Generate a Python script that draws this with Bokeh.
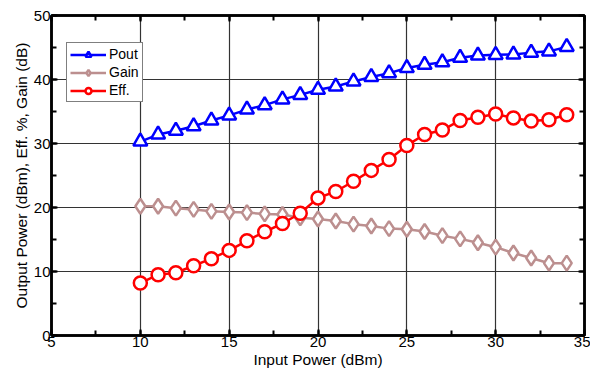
from bokeh.plotting import figure
from bokeh.models import Range1d, SingleIntervalTicker, LinearAxis, Legend, LegendItem
from bokeh.embed import file_html
from bokeh.resources import INLINE

input_power = [10, 11, 12, 13, 14, 15, 16, 17, 18, 19, 20, 21, 22, 23, 24, 25, 26, 27, 28, 29, 30, 31, 32, 33, 34]
pout = [30.3, 31.4, 32.0, 32.7, 33.6, 34.4, 35.3, 36.0, 36.9, 37.6, 38.4, 38.9, 39.7, 40.4, 41.0, 41.8, 42.3, 42.7, 43.4, 43.75, 43.85, 43.9, 44.2, 44.4, 45.1]
gain = [20.2, 20.2, 19.9, 19.7, 19.4, 19.3, 19.2, 19.0, 18.9, 18.4, 18.2, 17.9, 17.4, 17.1, 16.7, 16.6, 16.25, 15.6, 15.1, 14.5, 13.8, 12.9, 12.1, 11.3, 11.3]
eff = [8.2, 9.5, 9.8, 10.9, 12.0, 13.3, 14.8, 16.2, 17.5, 19.1, 21.5, 22.5, 24.1, 25.8, 27.5, 29.7, 31.4, 32.1, 33.6, 34.1, 34.6, 34.0, 33.5, 33.7, 34.5]

FONT = "Liberation Sans"

p = figure(width=590, height=375, output_backend="svg", toolbar_location=None,
           x_range=Range1d(5, 35), y_range=Range1d(0, 50),
           min_border_left=51, min_border_right=6, min_border_top=15, min_border_bottom=40,
           x_axis_label="Input Power (dBm)",
           y_axis_label="Output Power (dBm), Eff. %, Gain (dB)")
p.background_fill_color = "white"
p.border_fill_color = "white"
p.outline_line_color = "black"
p.outline_line_width = 2.5

xt = SingleIntervalTicker(interval=5, num_minor_ticks=2)
yt = SingleIntervalTicker(interval=10, num_minor_ticks=2)
p.xaxis.ticker = xt
p.yaxis.ticker = yt
p.xgrid.ticker = xt
p.ygrid.ticker = yt

for ax in list(p.xaxis) + list(p.yaxis):
    ax.major_tick_in = 6
    ax.major_tick_out = 0
    ax.minor_tick_in = 5
    ax.minor_tick_out = 0
    ax.major_tick_line_width = 2
    ax.minor_tick_line_width = 2
    ax.axis_line_width = 2.5
    ax.major_label_text_font = FONT
    ax.major_label_text_font_size = "15px"
    ax.major_label_text_color = "black"
    ax.axis_label_text_font = FONT
    ax.axis_label_text_font_size = "15.5px"
    ax.axis_label_text_font_style = "normal"
    ax.axis_label_text_color = "black"
    ax.major_label_standoff = 1
    ax.axis_label_standoff = 1

for loc, tk in (("above", xt), ("right", yt)):
    ax = LinearAxis(ticker=tk, major_label_text_font_size="0px", major_tick_in=6, major_tick_out=0,
                    minor_tick_in=5, minor_tick_out=0, major_tick_line_width=2, minor_tick_line_width=2,
                    axis_line_width=2.5)
    ax.major_label_text_alpha = 0
    p.add_layout(ax, loc)

for g in (p.xgrid, p.ygrid):
    g.grid_line_color = "#333333"
    g.grid_line_width = 1.2

c_pout = "#0000FF"
c_gain = "#BC8F8F"
c_eff = "#FF0000"

l1 = p.line(input_power, pout, line_color=c_pout, line_width=2.5)
s1 = p.scatter(input_power, pout, marker="triangle", size=14, line_color=c_pout, line_width=2.5, fill_color="white")
l2 = p.line(input_power, gain, line_color=c_gain, line_width=2.5)
s2 = p.scatter(input_power, gain, marker="diamond", size=15, line_color=c_gain, line_width=2.5, fill_color="white")
l3 = p.line(input_power, eff, line_color=c_eff, line_width=2.5)
s3 = p.scatter(input_power, eff, marker="circle", size=13, line_color=c_eff, line_width=2.5, fill_color="white")

legend = Legend(items=[LegendItem(label="Pout", renderers=[l1, s1]),
                       LegendItem(label="Gain", renderers=[l2, s2]),
                       LegendItem(label="Eff.", renderers=[l3, s3])],
                location=(15, 233))
legend.label_text_font = FONT
legend.label_text_font_size = "14px"
legend.label_text_color = "black"
legend.glyph_width = 36
legend.glyph_height = 15
legend.label_height = 15
legend.spacing = 2
legend.padding = 3
legend.margin = 0
legend.label_standoff = 3
legend.border_line_color = "black"
legend.border_line_width = 1
legend.background_fill_alpha = 1
p.add_layout(legend)

open("out.html", "w").write(file_html(p, INLINE))
